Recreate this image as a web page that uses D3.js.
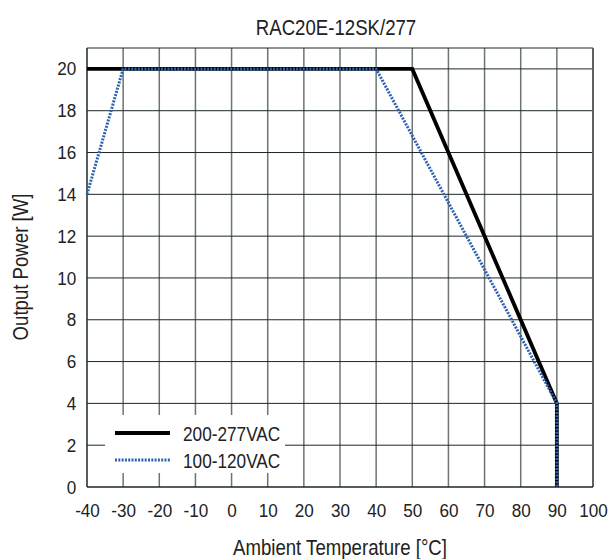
<!DOCTYPE html>
<html>
<head>
<meta charset="utf-8">
<script src="https://cdn.jsdelivr.net/npm/d3@7"></script>
<style>
  html, body { margin: 0; padding: 0; background: #fff; }
  svg text { font-family: "Liberation Sans", Arial, Helvetica, sans-serif; fill: #222; }
</style>
</head>
<body>
<svg id="chart" width="611" height="559"></svg>
<script>
// Derating curves: output power vs ambient temperature
const chartTitle = "RAC20E-12SK/277";
const xAxisTitle = "Ambient Temperature [°C]";
const yAxisTitle = "Output Power [W]";
const xTicks = [-40, -30, -20, -10, 0, 10, 20, 30, 40, 50, 60, 70, 80, 90, 100];
const yTicks = [0, 2, 4, 6, 8, 10, 12, 14, 16, 18, 20];

const seriesNames = ["200-277VAC", "100-120VAC"];
const highLineTemp  = [-40, 50, 90, 90];
const highLinePower = [20, 20, 4, 0];
const lowLineTemp   = [-40, -30, 40, 90, 90];
const lowLinePower  = [14, 20, 20, 4, 0];

const svg = d3.select("#chart");
const plot = { left: 87, right: 593, top: 48, bottom: 487 };

const x = d3.scaleLinear().domain([-40, 100]).range([plot.left, plot.right]);
const y = d3.scaleLinear().domain([0, 21]).range([plot.bottom, plot.top]);

// condensed text: horizontally squeezed sans
function narrowText(parent, tx, ty, str, size, sx, anchor, rot) {
  const g = parent.append("g")
    .attr("transform", `translate(${tx},${ty})${rot ? ` rotate(${rot})` : ""} scale(${sx},1)`);
  g.append("text").attr("text-anchor", anchor).attr("font-size", size).text(str);
  return g;
}

// grid
const grid = svg.append("g");
grid.selectAll("line.v").data(xTicks.filter(t => t > -40 && t < 100)).join("line")
  .attr("x1", d => x(d)).attr("x2", d => x(d))
  .attr("y1", plot.top).attr("y2", plot.bottom)
  .attr("stroke", "#6e7474").attr("stroke-width", 1.5);
grid.selectAll("line.h").data(yTicks.filter(t => t > 0)).join("line")
  .attr("x1", plot.left).attr("x2", plot.right)
  .attr("y1", d => y(d)).attr("y2", d => y(d))
  .attr("stroke", "#1c2828").attr("stroke-width", 1);

// frame
svg.append("line").attr("x1", plot.left).attr("x2", plot.right).attr("y1", plot.top).attr("y2", plot.top)
  .attr("stroke", "#1c2828").attr("stroke-width", 1);
svg.append("line").attr("x1", plot.right).attr("x2", plot.right).attr("y1", plot.top).attr("y2", plot.bottom)
  .attr("stroke", "#5a6262").attr("stroke-width", 2);
svg.append("line").attr("x1", plot.left).attr("x2", plot.left).attr("y1", plot.top).attr("y2", plot.bottom)
  .attr("stroke", "#1c2828").attr("stroke-width", 1.5);
svg.append("line").attr("x1", plot.left).attr("x2", plot.right).attr("y1", plot.bottom).attr("y2", plot.bottom)
  .attr("stroke", "#1c2828").attr("stroke-width", 1.5);

// tick labels through d3 axes (tick marks hidden), slightly condensed
const xAxis = svg.append("g").attr("transform", `translate(0,${plot.bottom})`)
  .call(d3.axisBottom(x).tickValues(xTicks).tickSize(0).tickPadding(17).tickFormat(d => String(d)));
xAxis.select(".domain").remove();
xAxis.selectAll("text").attr("font-size", 19).attr("fill", "#222")
  .attr("font-family", '"Liberation Sans", Arial, sans-serif')
  .attr("transform", "scale(0.9,1)");

const yAxis = svg.append("g").attr("transform", `translate(${plot.left},0)`)
  .call(d3.axisLeft(y).tickValues(yTicks).tickSize(0).tickPadding(12).tickFormat(d => String(d)));
yAxis.select(".domain").remove();
yAxis.selectAll("text").attr("font-size", 19).attr("fill", "#222")
  .attr("font-family", '"Liberation Sans", Arial, sans-serif')
  .attr("transform", "scale(0.9,1)");

// titles
narrowText(svg, 336, 35, chartTitle, 23, 0.81, "middle");
narrowText(svg, 340, 555, xAxisTitle, 23, 0.81, "middle");
narrowText(svg, 28, 267, yAxisTitle, 23, 0.81, "middle", -90);

// curves
const line = d3.line().x(d => x(d[0])).y(d => y(d[1]));
const highData = highLineTemp.map((t, i) => [t, highLinePower[i]]);
const lowData = lowLineTemp.map((t, i) => [t, lowLinePower[i]]);

svg.append("path").datum(highData).attr("d", line)
  .attr("fill", "none").attr("stroke", "#000").attr("stroke-width", 3.8)
  .attr("stroke-linejoin", "miter");
svg.append("path").datum(lowData).attr("d", line)
  .attr("fill", "none").attr("stroke", "#2d62b0").attr("stroke-width", 3)
  .attr("stroke-dasharray", "2,1.3");

// legend
const lg = svg.append("g");
lg.append("rect").attr("x", 105).attr("y", 415).attr("width", 180).attr("height", 58).attr("fill", "#fff");
const legendItems = [
  { name: seriesNames[0], stroke: "#000", width: 4, dash: null, y: 433 },
  { name: seriesNames[1], stroke: "#2d62b0", width: 3, dash: "2,1.3", y: 460 }
];
legendItems.forEach(it => {
  lg.append("line").attr("x1", 115).attr("x2", 170).attr("y1", it.y).attr("y2", it.y)
    .attr("stroke", it.stroke).attr("stroke-width", it.width).attr("stroke-dasharray", it.dash);
  narrowText(lg, 183, it.y + 7.5, it.name, 21, 0.82, "start");
});
</script>
</body>
</html>
